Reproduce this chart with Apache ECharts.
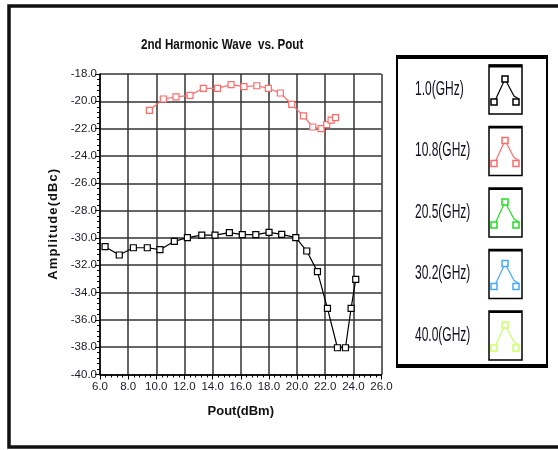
<!DOCTYPE html>
<html>
<head>
<meta charset="utf-8">
<script src="https://cdn.jsdelivr.net/npm/echarts@6/dist/echarts.min.js"></script>
<style>
  html, body { margin: 0; padding: 0; background: #fff; }
  #chart { width: 558px; height: 450px; }
</style>
</head>
<body>
<div id="chart"></div>
<script>
// Measured 2nd-harmonic level versus output power, one list per test frequency
const legendNames = ['1.0(GHz)', '10.8(GHz)', '20.5(GHz)', '30.2(GHz)', '40.0(GHz)'];
const legendColors = ['#000000', '#ff6b6b', '#22dd22', '#44aaff', '#ccff66'];

const poutF1 = [6.36, 7.37, 8.37, 9.36, 10.26, 11.28, 12.21, 13.23, 14.17, 15.19, 16.11, 17.07, 18.01, 18.91, 19.91, 20.69, 21.45, 22.16, 22.87, 23.44, 23.84, 24.17];
const ampF1  = [-30.64, -31.25, -30.72, -30.72, -30.86, -30.25, -29.98, -29.79, -29.79, -29.61, -29.76, -29.76, -29.59, -29.74, -29.98, -30.96, -32.47, -35.16, -38.04, -38.04, -35.16, -33.03];

const poutF2 = [9.51, 10.5, 11.4, 12.4, 13.34, 14.34, 15.31, 16.23, 17.14, 17.96, 18.81, 19.62, 20.45, 21.12, 21.71, 22.11, 22.42, 22.73];
const ampF2  = [-20.66, -19.83, -19.68, -19.56, -19.05, -19.05, -18.78, -18.93, -18.86, -19.05, -19.39, -20.22, -21.07, -21.88, -22.0, -21.71, -21.37, -21.2];

// No readings were taken at the three upper frequencies
const poutF3 = [], ampF3 = [];
const poutF4 = [], ampF4 = [];
const poutF5 = [], ampF5 = [];

const xTicks = { min: 6, max: 26, step: 2 };
const yTicks = { min: -40, max: -18, step: 2 };

const pairs = (xs, ys) => xs.map((x, i) => [x, ys[i]]);
const seriesData = [
  pairs(poutF1, ampF1), pairs(poutF2, ampF2), pairs(poutF3, ampF3),
  pairs(poutF4, ampF4), pairs(poutF5, ampF5)
];

const FONT = "'Liberation Sans', Arial, sans-serif";
// spread letters slightly, as in the axis caption style
const spaced = s => s.split('').join('\u200a');

const chart = echarts.init(document.getElementById('chart'), null, { renderer: 'canvas' });

// Legend panel on the right: label text plus a small framed line icon per frequency
const legendGraphics = [];
const boxX = 397, boxY = 56, boxW = 150, boxH = 311;
legendGraphics.push({
  type: 'rect', shape: { x: boxX, y: boxY, width: boxW, height: boxH },
  style: { fill: '#fff', stroke: '#000', lineWidth: 2 }, z: 10
});
legendGraphics.push({ type: 'line', shape: { x1: boxX, y1: boxY + 1, x2: boxX + boxW, y2: boxY + 1 }, style: { stroke: '#000', lineWidth: 4 }, z: 11 });
legendGraphics.push({ type: 'line', shape: { x1: boxX, y1: boxY + boxH - 1, x2: boxX + boxW, y2: boxY + boxH - 1 }, style: { stroke: '#000', lineWidth: 4 }, z: 11 });
legendNames.forEach((name, i) => {
  const cy = 89 + i * 61.5;
  const ix = 489, iy = cy - 24, iw = 33, ih = 49;
  const c = legendColors[i];
  legendGraphics.push({
    type: 'text', x: 415, y: cy, z: 12, scaleX: 0.6,
    style: { text: name, fill: '#111122', font: "20px " + FONT, verticalAlign: 'middle', align: 'left' }
  });
  legendGraphics.push({
    type: 'rect', shape: { x: ix, y: iy, width: iw, height: ih }, z: 12,
    style: { fill: '#fff', stroke: '#000', lineWidth: 1.5 }
  });
  legendGraphics.push({
    type: 'line', shape: { x1: ix, y1: iy + 1, x2: ix + iw, y2: iy + 1 }, z: 13,
    style: { stroke: '#000', lineWidth: i === 0 ? 3 : 2 }
  });
  const pts = [[ix + 5, iy + 37], [ix + 16, iy + 14], [ix + 27, iy + 37]];
  legendGraphics.push({
    type: 'polyline', shape: { points: [[ix + 4, iy + 40], [ix + 16, iy + 14], [ix + 25, iy + 31], [ix + 30, iy + 34]] }, z: 13,
    style: { stroke: c, lineWidth: 1.2, fill: null }
  });
  pts.forEach(p => {
    legendGraphics.push({
      type: 'rect', shape: { x: p[0] - 3, y: p[1] - 3, width: 6, height: 6 }, z: 14,
      style: { fill: '#fff', stroke: c, lineWidth: 1.5 }
    });
  });
});

const option = {
  backgroundColor: '#fff',
  animation: false,
  grid: { left: 100, top: 74, right: 176.5, bottom: 75.5, containLabel: false },
  xAxis: {
    type: 'value', min: xTicks.min, max: xTicks.max, interval: xTicks.step,
    name: 'Pout(dBm)', nameLocation: 'middle', nameGap: 30,
    nameTextStyle: { fontFamily: FONT, fontSize: 13, fontWeight: 'bold', color: '#111' },
    axisLine: { show: true, onZero: false, lineStyle: { color: '#000', width: 1.5 } },
    axisTick: { show: true, length: 5, lineStyle: { color: '#000' } },
    minorTick: { show: true, splitNumber: 5, length: 3, lineStyle: { color: '#000' } },
    axisLabel: { formatter: v => v.toFixed(1), fontFamily: FONT, fontSize: 11.5, color: '#1a1a2a', margin: 6 },
    splitLine: { show: true, lineStyle: { color: '#333', width: 1.5 } }
  },
  yAxis: {
    type: 'value', min: yTicks.min, max: yTicks.max, interval: yTicks.step,
    name: spaced('Amplitude(dBc)'), nameLocation: 'middle', nameGap: 36, nameRotate: 90,
    nameTextStyle: { fontFamily: FONT, fontSize: 13, fontWeight: 'bold', color: '#111' },
    axisLine: { show: true, onZero: false, lineStyle: { color: '#000', width: 1.5 } },
    axisTick: { show: true, length: 5, lineStyle: { color: '#000' } },
    minorTick: { show: true, splitNumber: 5, length: 3, lineStyle: { color: '#000' } },
    axisLabel: { formatter: v => v.toFixed(1), fontFamily: FONT, fontSize: 11.5, color: '#1a1a2a', margin: 3 },
    splitLine: { show: true, lineStyle: { color: '#333', width: 1.5 } }
  },
  series: legendNames.map((name, i) => ({
    name: name,
    type: 'line',
    data: seriesData[i],
    symbol: 'rect',
    symbolSize: 6,
    showAllSymbol: true,
    itemStyle: { color: '#fff', borderColor: legendColors[i], borderWidth: 1.2 },
    lineStyle: { color: legendColors[i], width: 1.2 },
    z: 5
  })),
  graphic: [
    // outer panel frame
    { type: 'rect', shape: { x: 9, y: 6, width: 570, height: 441 }, style: { fill: null, stroke: '#111', lineWidth: 3.5 }, z: 1 },
    // chart title
    { type: 'text', x: 141, y: 45, scaleX: 0.83, z: 12,
      style: { text: '2nd Harmonic Wave  vs. Pout', font: "bold 14px " + FONT, fill: '#111', verticalAlign: 'middle', align: 'left' } }
  ].concat(legendGraphics)
};

chart.setOption(option);
</script>
</body>
</html>
